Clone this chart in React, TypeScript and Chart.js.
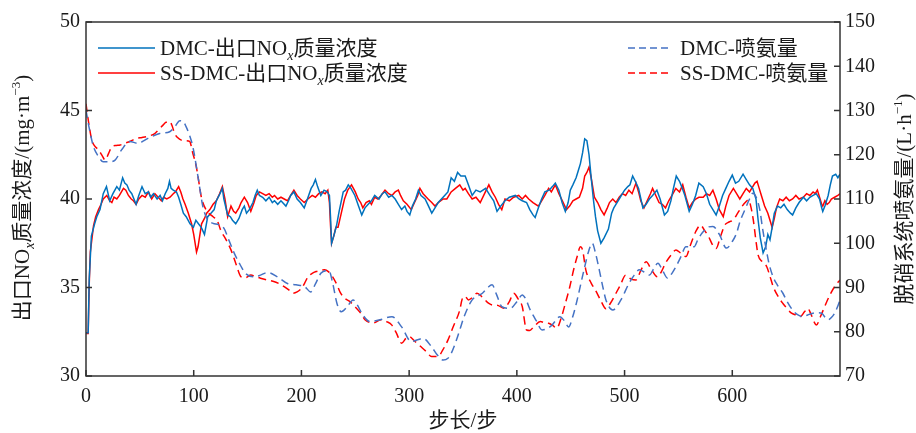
import React, { useEffect, useRef } from "react";
import { Chart, registerables } from "chart.js";

Chart.register(...registerables);

// ---- Data ----
const dmcNoxSteps = [0, 2, 3, 5, 8, 10, 13, 16, 19, 22, 25, 28.6, 31, 34, 36, 38, 40, 42.5, 46.5, 49, 52, 55, 58, 60, 62.6, 66, 68.8, 71, 73.5, 76, 77.5, 79, 81, 84, 86, 88, 90.4, 93, 96.6, 99.7, 102, 104.4, 107, 110, 113, 116, 119, 121, 123.6, 126.6, 128, 131.5, 134, 136, 139, 142, 145, 147, 149, 151.6, 155, 157, 159, 161, 164, 167, 170, 173, 175, 178, 181, 185.6, 188, 190, 193, 196, 199, 202.6, 205, 209, 211, 213, 215, 218, 221, 224, 226, 227, 228, 230, 232.6, 235, 238.8, 241, 243.5, 246, 249.6, 253, 256, 259, 262, 265, 268, 272, 275, 277.6, 281, 284, 287, 290, 293, 296, 298, 300.6, 303, 306, 308.6, 311, 314.8, 318, 321, 324, 327, 330, 333, 336, 339, 342, 345, 348, 352, 355, 358.5, 362, 366, 371, 375, 378.5, 381.6, 385, 389, 393, 398.6, 402, 405, 409, 412, 415, 417, 420, 423, 426, 430, 433, 435.7, 439, 442, 445, 447.6, 449.6, 452, 455, 457, 459, 461, 463, 465, 467, 469, 471, 473, 475, 478, 481, 485, 488, 490, 493, 495, 498, 500, 503, 505, 507.5, 510, 513, 517, 520, 523, 526, 530, 533, 537, 540, 543, 545, 548, 551, 553, 556, 560, 563, 566, 569, 573, 576, 579, 582, 585, 588, 591, 594, 597, 600, 603, 606, 610, 613, 616, 619, 622, 624, 626, 628.6, 631, 633, 635, 637, 639, 642, 645, 648, 651, 654, 656, 659, 662, 666, 669, 672, 675, 678, 681, 683, 684, 686, 689, 691, 693, 696, 698, 700];
const dmcNoxValues = [32.45, 32.45, 35.5, 37.9, 38.6, 39.0, 39.4, 40.3, 40.7, 39.9, 40.3, 40.7, 40.5, 41.2, 40.9, 40.8, 40.5, 40.3, 39.7, 40.2, 40.7, 40.3, 40.4, 40.1, 40.3, 40.0, 40.2, 39.9, 40.3, 40.6, 41.0, 40.6, 40.5, 40.4, 40.1, 39.7, 39.2, 39.0, 38.6, 38.4, 38.8, 38.6, 38.4, 38.0, 39.0, 39.2, 39.4, 39.9, 40.2, 40.6, 40.0, 39.1, 39.0, 38.8, 38.6, 38.9, 39.4, 39.6, 39.2, 39.4, 39.8, 40.2, 40.5, 40.2, 40.1, 39.9, 40.1, 39.8, 39.9, 39.7, 39.9, 39.6, 39.9, 40.2, 40.4, 40.0, 39.8, 39.5, 39.9, 40.6, 40.8, 41.1, 40.7, 40.2, 40.5, 40.4, 40.2, 39.0, 37.5, 37.9, 38.5, 39.3, 40.4, 40.5, 40.8, 40.6, 40.2, 39.6, 39.1, 39.5, 39.7, 39.9, 40.2, 40.0, 40.3, 40.4, 40.1, 40.2, 40.0, 39.7, 39.4, 39.6, 39.3, 39.1, 39.6, 40.0, 40.5, 40.2, 40.0, 39.6, 39.2, 39.5, 39.8, 40.0, 40.2, 40.4, 41.2, 41.0, 41.5, 41.3, 41.3, 40.8, 40.2, 40.5, 40.4, 40.6, 40.2, 39.9, 39.3, 39.6, 39.9, 40.1, 40.2, 40.0, 39.9, 39.8, 39.4, 39.1, 38.95, 39.5, 40.0, 40.4, 40.5, 40.7, 40.9, 40.5, 39.8, 39.3, 39.8, 40.5, 40.8, 41.2, 41.6, 42.0, 42.6, 43.4, 43.3, 42.5, 41.2, 40.0, 39.0, 38.2, 37.5, 37.8, 38.3, 39.2, 39.5, 39.8, 40.0, 40.3, 40.5, 40.7, 40.8, 41.3, 41.0, 40.6, 39.5, 39.7, 40.0, 40.2, 40.5, 40.0, 39.1, 39.3, 39.9, 40.5, 41.3, 41.0, 40.7, 40.2, 39.3, 39.7, 40.2, 40.9, 40.7, 40.3, 39.7, 39.4, 39.1, 39.6, 40.2, 40.6, 41.0, 41.35, 40.9, 41.0, 41.4, 41.1, 40.8, 40.6, 40.0, 38.8, 37.8, 36.95, 37.3, 38.0, 37.7, 38.4, 39.2, 39.6, 39.5, 39.7, 39.4, 39.2, 39.1, 39.5, 39.8, 40.1, 39.9, 40.1, 40.2, 40.3, 40.0, 39.5, 39.3, 39.6, 40.2, 40.8, 41.3, 41.4, 41.2, 41.4];

const ssNoxSteps = [0, 2, 3, 4, 7, 9, 11.6, 14, 16, 19.3, 22, 24, 26, 28.6, 31, 34.8, 37, 39.4, 42, 44, 46.5, 49, 52, 55, 58, 61, 64, 67, 70, 72, 75, 78, 81, 83, 86, 88, 90, 92, 95, 98, 100, 102.6, 104, 107.3, 110, 112, 115, 118, 121, 124, 126.6, 129, 131.5, 134.6, 137, 139, 142, 144, 147, 150, 153, 156, 158, 161, 164, 167, 170, 173, 175, 178, 181, 184, 187, 190, 193, 196, 199, 202.6, 206, 210, 213, 216, 219, 222, 224.5, 226, 227, 228, 230, 232, 234, 237, 240, 243, 246.5, 250, 252.7, 255, 257, 260, 263, 265, 268, 271, 274, 277.6, 281, 284, 287, 290, 292, 294.6, 298, 302, 305, 308, 310, 313, 317.6, 321, 324, 327, 331.6, 335, 339, 343, 347, 350, 352, 355, 358.5, 362, 366, 370, 374, 377, 380, 383, 386, 389, 393, 397, 401.7, 405, 408, 411, 415, 420, 423, 426, 429.5, 432, 435.7, 439, 443, 446, 449, 452, 455, 458, 461, 463, 465, 467, 469, 472, 475, 478, 481, 484, 486, 489, 492, 495, 498, 501, 504, 507, 510.6, 513, 515, 518, 521, 524, 526, 529, 532, 535, 538, 541, 544, 547.6, 551, 554, 557, 560, 563, 566, 569, 573, 576, 579, 582, 585, 588, 591.6, 594, 597, 601, 604, 607, 610, 613, 616, 619, 621, 623, 625, 627, 630, 633, 635, 637, 639, 641, 644, 647, 650, 653, 656, 659, 662, 666, 669, 672, 675, 677, 679, 681, 683, 684, 686, 688, 690, 692, 695, 698, 700];
const ssNoxValues = [32.4, 32.4, 35.2, 37.0, 38.5, 39.0, 39.4, 39.7, 40.0, 40.2, 39.9, 39.8, 40.1, 40.0, 40.2, 40.6, 40.5, 40.2, 40.0, 39.9, 39.7, 40.0, 40.2, 40.1, 40.4, 40.0, 40.3, 40.1, 39.9, 40.1, 40.0, 40.1, 40.3, 40.4, 40.7, 40.4, 40.0, 39.7, 39.2, 38.6, 38.0, 37.0, 37.3, 38.6, 38.9, 39.2, 39.4, 39.7, 39.9, 40.3, 40.7, 40.0, 39.0, 39.6, 39.3, 39.2, 39.5, 39.8, 40.1, 39.8, 39.3, 39.8, 40.2, 40.4, 40.3, 40.2, 40.3, 40.1, 40.2, 40.0, 40.1, 40.0, 39.9, 40.2, 40.5, 40.2, 40.0, 39.8, 40.0, 40.2, 40.1, 40.3, 40.4, 40.3, 40.5, 39.8, 38.5, 37.5, 37.9, 38.4, 38.4, 39.2, 40.0, 40.5, 40.8, 40.4, 40.0, 39.8, 39.5, 39.8, 39.9, 39.7, 40.1, 40.0, 40.2, 40.5, 40.3, 40.2, 40.4, 40.5, 40.2, 39.9, 39.7, 39.4, 39.8, 40.2, 40.6, 40.3, 40.0, 39.8, 39.6, 39.8, 40.0, 40.0, 40.4, 40.6, 40.8, 40.5, 40.6, 40.3, 40.0, 40.1, 39.8, 40.3, 40.8, 40.4, 40.1, 39.7, 39.4, 40.0, 39.9, 40.1, 40.2, 40.0, 40.2, 40.0, 39.8, 39.6, 39.9, 40.2, 40.6, 40.4, 40.8, 40.3, 39.8, 39.4, 39.6, 39.9, 40.0, 40.1, 40.6, 41.3, 41.5, 41.8, 41.2, 40.1, 39.8, 39.4, 39.1, 39.5, 39.8, 40.0, 39.8, 40.1, 40.3, 40.2, 40.5, 40.3, 40.9, 40.4, 39.9, 39.5, 39.9, 40.3, 40.6, 40.2, 39.8, 39.7, 39.5, 39.9, 40.2, 40.6, 40.4, 40.8, 40.1, 39.5, 39.8, 40.0, 40.1, 40.1, 40.3, 40.2, 40.5, 40.0, 39.4, 39.0, 39.6, 40.2, 40.6, 40.3, 40.0, 40.3, 40.6, 40.4, 40.7, 40.9, 41.0, 40.6, 40.2, 39.6, 39.2, 38.8, 38.4, 38.9, 39.5, 40.0, 39.9, 40.1, 39.9, 40.0, 40.2, 40.0, 40.1, 40.3, 40.2, 40.4, 40.3, 40.5, 40.1, 39.7, 39.6, 39.9, 39.7, 39.8, 40.0, 40.1, 40.2, 40.3];

const dmcNh3Steps = [0, 3, 7, 11.6, 16, 21, 27, 33, 40.7, 48, 57.6, 68.4, 77.7, 83, 87, 90, 93, 96, 99.2, 104, 108.5, 113, 118, 123, 128, 133, 137.7, 143, 148, 156, 162, 168.6, 177.8, 187, 195, 203, 208.6, 213, 218, 223, 226, 229, 233, 237, 242, 248, 252, 256, 263.6, 273, 284, 293, 302, 308, 313, 320.8, 326, 331.6, 336, 339, 343, 347, 351, 358.5, 368, 373, 377, 381, 386, 394, 400, 405, 408, 412.5, 418, 423.4, 428, 432.6, 440, 444, 448, 452, 456, 460, 463, 467, 470, 473, 476.5, 479.5, 482.7, 489, 496.6, 504, 509, 513.7, 518, 523, 527, 531, 535, 540, 544, 547.7, 552, 557, 564.6, 568, 572, 578, 582, 588, 594.6, 600, 604, 607, 611.6, 616, 619, 622, 625.6, 628, 631.6, 634, 637.9, 642, 647, 651, 656, 661, 666, 670, 675, 679, 683, 686, 689, 692, 695, 698, 700];
const dmcNh3Values = [130.1, 126, 121.8, 119.6, 118.4, 118.4, 118.8, 121.1, 123.0, 122.6, 123.7, 124.8, 125.2, 126.5, 127.7, 127.6, 126.3, 124.5, 121.8, 115.0, 108.3, 105.3, 104.5, 104.2, 103.4, 100.5, 97.7, 95.2, 93.2, 92.4, 92.8, 93.4, 92.4, 90.9, 90.6, 90.2, 89.0, 90.8, 93.2, 93.8, 93.6, 91.0, 86.4, 84.5, 85.5, 87.2, 86.0, 84.2, 82.3, 82.7, 83.4, 81.1, 77.8, 78.2, 78.5, 76.6, 74.8, 73.6, 74.0, 75.1, 77.5, 80.4, 83.4, 87.2, 88.7, 90.0, 90.6, 88.5, 85.7, 85.3, 86.8, 88.3, 87.5, 84.9, 82.5, 80.4, 80.7, 81.5, 83.4, 82.5, 81.1, 83.5, 87.2, 91.5, 94.7, 98.5, 100.0, 97.8, 94.0, 90.5, 87.2, 84.9, 87.2, 90.9, 92.8, 94.0, 93.5, 92.8, 94.2, 95.5, 94.0, 92.1, 93.2, 94.7, 96.8, 99.2, 99.2, 100.8, 102.3, 103.7, 103.8, 102.0, 98.9, 100.4, 102.3, 104.8, 107.5, 110.0, 111.3, 110.5, 107.5, 103.5, 98.5, 95.5, 92.4, 90.5, 88.7, 86.8, 84.9, 83.8, 83.4, 83.8, 84.2, 84.3, 84.2, 83.3, 82.7, 83.2, 84.2, 85.8, 87.2];

const ssNh3Steps = [0, 2, 5.4, 8, 11.6, 15, 17.8, 21, 24, 28, 31.7, 36, 40.7, 46.9, 52, 56.1, 63.8, 68, 71.5, 74, 77.7, 80, 82.3, 85, 88.5, 92, 96.2, 99, 102.4, 105, 107, 111.6, 118, 122, 125, 130, 134.6, 139, 144, 148, 153, 158, 162, 168, 175, 180, 184, 188, 192, 196, 200, 203, 206, 210, 213.6, 217, 221.5, 225, 229, 233, 236, 240, 245, 249.6, 255, 259, 266.6, 274, 279, 284, 288, 293, 297, 300, 305, 311, 316, 320.8, 327, 331, 336, 341, 347, 349, 352, 355, 359, 363, 368, 374, 378, 381.6, 388, 393, 397, 401, 405, 409, 412, 415.6, 421.8, 426, 429.5, 433, 437, 441, 445, 449, 452.7, 456, 459, 461, 464, 469, 473, 478, 482.7, 487, 492, 496, 501, 506, 510.6, 515, 520, 525, 530.6, 534, 538, 543, 547.7, 552, 557, 561, 566, 570.6, 574, 578, 582, 585, 589, 593, 597, 601, 605, 609, 612, 615, 617, 619.5, 622, 624, 628, 632, 635, 638, 642, 647, 651, 655, 659, 663, 667, 670, 673, 676, 678, 682, 687, 691, 695, 700];
const ssNh3Values = [131.5, 128, 123.3, 122.0, 121.1, 119.8, 118.8, 120.3, 121.8, 122.1, 122.2, 122.6, 123.0, 123.7, 123.9, 124.1, 124.8, 125.8, 126.7, 127.3, 127.5, 126.5, 124.8, 123.9, 123.3, 123.2, 123.0, 120.5, 117.3, 113.5, 110.5, 107.5, 106.0, 105.0, 103.0, 100.8, 98.5, 95.5, 92.4, 92.2, 92.8, 92.4, 92.1, 91.7, 91.3, 90.8, 90.2, 89.5, 88.7, 89.0, 89.8, 91.0, 92.4, 93.2, 93.6, 93.8, 94.0, 93.6, 92.4, 90.6, 88.9, 87.6, 86.8, 85.7, 84.2, 82.7, 82.0, 82.7, 82.3, 81.5, 79.8, 77.4, 78.5, 78.9, 77.9, 76.6, 75.5, 74.4, 74.4, 75.8, 78.1, 81.2, 84.9, 87.2, 88.0, 87.2, 87.8, 88.7, 87.8, 86.4, 86.0, 86.0, 85.3, 86.8, 88.7, 87.5, 85.7, 80.4, 80.3, 81.1, 82.3, 82.0, 81.9, 81.5, 80.8, 83.0, 86.4, 90.0, 94.0, 97.0, 99.2, 98.5, 94.0, 91.0, 89.4, 87.0, 85.2, 86.5, 88.7, 90.5, 92.8, 91.9, 91.7, 93.8, 95.8, 94.0, 92.4, 93.5, 95.5, 97.3, 98.5, 97.8, 97.0, 99.5, 102.6, 104.1, 103.0, 101.5, 99.5, 98.8, 101.5, 104.1, 104.8, 105.3, 106.8, 108.3, 109.2, 109.8, 108.5, 105.3, 100.5, 97.3, 95.8, 94.7, 92.5, 90.2, 88.2, 86.4, 85.2, 84.2, 83.8, 83.4, 84.5, 85.3, 84.0, 82.2, 81.5, 83.5, 86.4, 88.5, 90.2, 91.7];

const xTicks = [0, 100, 200, 300, 400, 500, 600];
const yLeftTicks = [30, 35, 40, 45, 50];
const yRightTicks = [70, 80, 90, 100, 110, 120, 130, 140, 150];

const BLUE = "rgb(0,114,189)";
const BLUE_D = "rgb(68,114,196)";
const RED = "rgb(255,0,0)";
const FONT = "'Liberation Serif', 'Times New Roman', 'Noto Sans CJK SC', serif";

type Seg = { t: string; k?: "sub" | "sup" };

function segFont(s: Seg, size: number) {
  if (s.k === "sub") return `italic ${Math.round(size * 0.68)}px ${FONT}`;
  if (s.k === "sup") return `${Math.round(size * 0.62)}px ${FONT}`;
  return `${size}px ${FONT}`;
}

function richWidth(ctx: CanvasRenderingContext2D, segs: Seg[], size: number) {
  let w = 0;
  for (const s of segs) {
    ctx.font = segFont(s, size);
    w += ctx.measureText(s.t).width;
  }
  return w;
}

function drawRich(ctx: CanvasRenderingContext2D, segs: Seg[], x: number, y: number, size: number) {
  let cx = x;
  ctx.textBaseline = "alphabetic";
  ctx.textAlign = "left";
  for (const s of segs) {
    ctx.font = segFont(s, size);
    let dy = 0;
    if (s.k === "sub") dy = size * 0.22;
    if (s.k === "sup") dy = -size * 0.42;
    ctx.fillText(s.t, cx, y + dy);
    cx += ctx.measureText(s.t).width;
  }
}

const leftTitle: Seg[] = [{ t: "出口NO" }, { t: "x", k: "sub" }, { t: "质量浓度/(mg·m" }, { t: "−3", k: "sup" }, { t: ")" }];
const rightTitle: Seg[] = [{ t: "脱硝系统喷氨量/(L·h" }, { t: "−1", k: "sup" }, { t: ")" }];
const legendItems = [
  { segs: [{ t: "DMC-出口NO" }, { t: "x", k: "sub" }, { t: "质量浓度" }] as Seg[], color: BLUE, dash: [] as number[] },
  { segs: [{ t: "SS-DMC-出口NO" }, { t: "x", k: "sub" }, { t: "质量浓度" }] as Seg[], color: RED, dash: [] as number[] },
  { segs: [{ t: "DMC-喷氨量" }] as Seg[], color: BLUE_D, dash: [7, 4] },
  { segs: [{ t: "SS-DMC-喷氨量" }] as Seg[], color: RED, dash: [7, 4] },
];

const decor = {
  id: "decor",
  afterDatasetsDraw(chart: any) {
    const { ctx, chartArea, scales } = chart;
    const { left, right, top, bottom } = chartArea;
    ctx.save();
    ctx.strokeStyle = "#333";
    ctx.lineWidth = 1.5;
    ctx.setLineDash([]);
    ctx.strokeRect(left, top, right - left, bottom - top);
    const L = 6;
    ctx.beginPath();
    for (const v of xTicks) {
      const px = scales.x.getPixelForValue(v);
      ctx.moveTo(px, bottom);
      ctx.lineTo(px, bottom - L);
    }
    for (const v of yLeftTicks) {
      const py = scales.y.getPixelForValue(v);
      ctx.moveTo(left, py);
      ctx.lineTo(left + L, py);
    }
    for (const v of yRightTicks) {
      const py = scales.y1.getPixelForValue(v);
      ctx.moveTo(right, py);
      ctx.lineTo(right - L, py);
    }
    ctx.stroke();

    // legends
    ctx.fillStyle = "#1a1a1a";
    const rows = [48, 73];
    legendItems.forEach((it, i) => {
      const row = rows[i % 2];
      const isRight = i >= 2;
      const x0 = isRight ? 628 : 98;
      const x1 = isRight ? 672 : 155;
      const tx = isRight ? 680 : 160;
      ctx.strokeStyle = it.color;
      ctx.lineWidth = 1.5;
      ctx.setLineDash(it.dash);
      ctx.beginPath();
      ctx.moveTo(x0, row);
      ctx.lineTo(x1, row);
      ctx.stroke();
      ctx.setLineDash([]);
      drawRich(ctx, it.segs, tx, row + 7, 21);
    });

    // axis titles
    const ts = 21;
    ctx.save();
    ctx.translate(29, 198);
    ctx.rotate(-Math.PI / 2);
    drawRich(ctx, leftTitle, -richWidth(ctx, leftTitle, ts) / 2, 0, ts);
    ctx.restore();

    ctx.save();
    ctx.translate(911, 199);
    ctx.rotate(-Math.PI / 2);
    drawRich(ctx, rightTitle, -richWidth(ctx, rightTitle, ts) / 2, 0, ts);
    ctx.restore();

    const xt: Seg[] = [{ t: "步长/步" }];
    drawRich(ctx, xt, 463 - richWidth(ctx, xt, ts) / 2, 427, ts);
    ctx.restore();
  },
};

function toXY(xs: number[], ys: number[]) {
  return xs.map((x, i) => ({ x, y: ys[i] }));
}

export default function App() {
  const ref = useRef<HTMLCanvasElement | null>(null);
  useEffect(() => {
    if (!ref.current) return;
    const chart = new Chart(ref.current, {
      type: "line",
      data: {
        datasets: [
          { label: "DMC-喷氨量", data: toXY(dmcNh3Steps, dmcNh3Values), yAxisID: "y1", borderColor: BLUE_D, borderWidth: 1.5, borderDash: [8, 5], pointRadius: 0, cubicInterpolationMode: "monotone", fill: false },
          { label: "SS-DMC-喷氨量", data: toXY(ssNh3Steps, ssNh3Values), yAxisID: "y1", borderColor: RED, borderWidth: 1.5, borderDash: [8, 5], pointRadius: 0, cubicInterpolationMode: "monotone", fill: false },
          { label: "DMC-出口NOx质量浓度", data: toXY(dmcNoxSteps, dmcNoxValues), yAxisID: "y", borderColor: BLUE, borderWidth: 1.5, pointRadius: 0, tension: 0, fill: false },
          { label: "SS-DMC-出口NOx质量浓度", data: toXY(ssNoxSteps, ssNoxValues), yAxisID: "y", borderColor: RED, borderWidth: 1.5, pointRadius: 0, tension: 0, fill: false },
        ],
      } as any,
      options: {
        responsive: false,
        animation: false,
        layout: { padding: { top: 22, left: 0, right: 0, bottom: 0 } },
        plugins: { legend: { display: false }, tooltip: { enabled: false } },
        scales: {
          x: {
            type: "linear",
            min: 0,
            max: 700,
            afterFit: (s: any) => { s.height = 57; },
            afterBuildTicks: (s: any) => { s.ticks = xTicks.concat([700]).map((v) => ({ value: v })); },
            grid: { display: false, drawTicks: false },
            border: { display: false },
            ticks: { padding: 9, color: "#1a1a1a", font: { family: FONT, size: 20 }, maxRotation: 0, callback: (v: any) => (v === 700 ? "" : String(v)) },
          },
          y: {
            type: "linear",
            position: "left",
            min: 30,
            max: 50,
            afterFit: (s: any) => { s.width = 86; },
            afterBuildTicks: (s: any) => { s.ticks = yLeftTicks.map((v) => ({ value: v })); },
            grid: { display: false, drawTicks: false },
            border: { display: false },
            ticks: { padding: 6, color: "#1a1a1a", font: { family: FONT, size: 20 } },
          },
          y1: {
            type: "linear",
            position: "right",
            min: 70,
            max: 150,
            afterFit: (s: any) => { s.width = 76; },
            afterBuildTicks: (s: any) => { s.ticks = yRightTicks.map((v) => ({ value: v })); },
            grid: { display: false, drawTicks: false },
            border: { display: false },
            ticks: { padding: 5, color: "#1a1a1a", font: { family: FONT, size: 20 } },
          },
        },
      } as any,
      plugins: [decor],
    });
    return () => chart.destroy();
  }, []);
  return (
    <div style={{ position: "fixed", left: 0, top: 0, width: 916, height: 433, background: "#fff" }}>
      <canvas ref={ref} width={916} height={433} style={{ display: "block" }} />
    </div>
  );
}
